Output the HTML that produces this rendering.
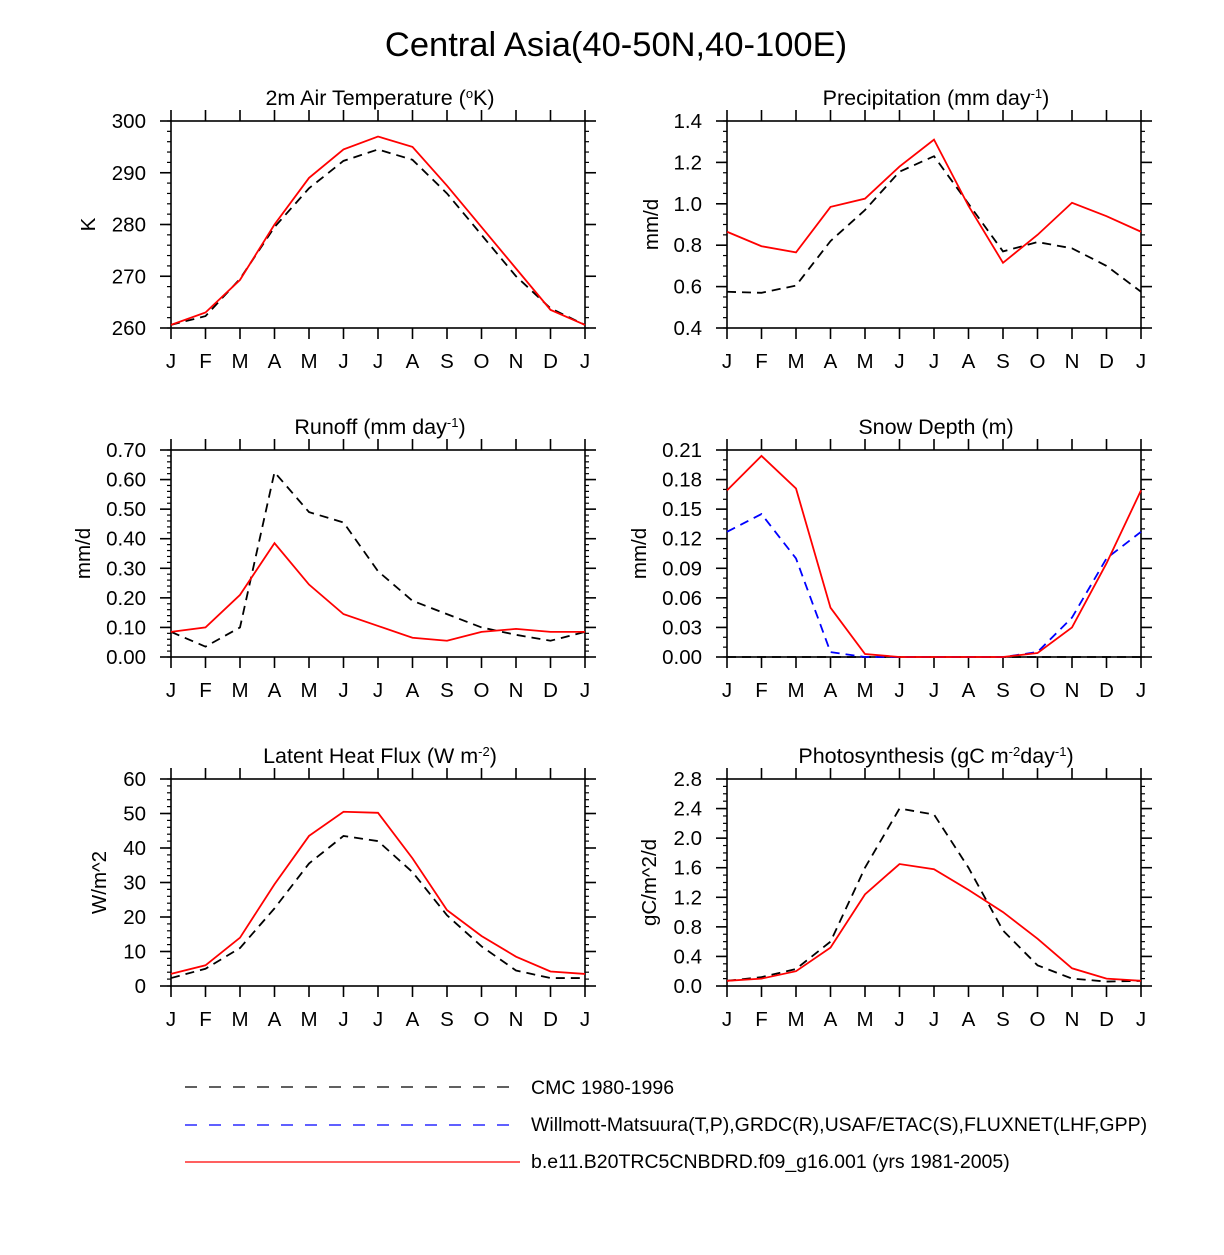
<!DOCTYPE html>
<html><head><meta charset="utf-8"><style>
body{margin:0;background:#fff;}
svg text{font-family:"Liberation Sans",sans-serif;fill:#000;}
</style></head><body>
<svg id="chart" width="1224" height="1250" xmlns="http://www.w3.org/2000/svg">
<text x="616" y="56" font-size="34.5" text-anchor="middle">Central Asia(40-50N,40-100E)</text>
<g id="panels"></g>
<g>
<line x1="185" y1="1087" x2="520" y2="1087" stroke="#000" stroke-width="1.3" stroke-dasharray="12,12"/>
<text x="531" y="1094" font-size="19.5">CMC 1980-1996</text>
<line x1="185" y1="1125" x2="520" y2="1125" stroke="#0000ff" stroke-width="1.3" stroke-dasharray="12,12"/>
<text x="531" y="1131" font-size="19.5">Willmott-Matsuura(T,P),GRDC(R),USAF/ETAC(S),FLUXNET(LHF,GPP)</text>
<line x1="185" y1="1162" x2="520" y2="1162" stroke="#ff0000" stroke-width="1.3"/>
<text x="531" y="1168" font-size="19.5">b.e11.B20TRC5CNBDRD.f09_g16.001 (yrs 1981-2005)</text>
</g>
</svg>
<script>
const months = ["J","F","M","A","M","J","J","A","S","O","N","D","J"];
const tempModel = [260.6,263,269.3,280,289,294.5,297,295,287.5,279.5,271.5,263.5,260.6];
const tempCMC = [260.6,262.3,269.5,279.5,287,292.3,294.5,292.5,286,278,270,263.8,260.6];
const precModel = [0.865,0.795,0.765,0.985,1.025,1.18,1.31,0.99,0.715,0.85,1.005,0.94,0.865];
const precCMC = [0.575,0.57,0.605,0.82,0.97,1.155,1.23,1.0,0.77,0.815,0.785,0.7,0.575];
const runModel = [0.085,0.10,0.21,0.385,0.245,0.145,0.105,0.065,0.055,0.085,0.095,0.085,0.085];
const runCMC = [0.085,0.035,0.10,0.625,0.49,0.455,0.29,0.19,0.145,0.10,0.075,0.055,0.085];
const snowModel = [0.169,0.204,0.171,0.05,0.003,0,0,0,0,0.004,0.03,0.095,0.169];
const snowObs = [0.127,0.145,0.1,0.005,0,0,0,0,0,0.005,0.04,0.1,0.127];
const snowCMC = [0,0,0,0,0,0,0,0,0,0,0,0,0];
const lhfModel = [3.5,6,14,29.5,43.5,50.5,50.2,37,22,14.5,8.5,4.2,3.5];
const lhfCMC = [2.3,5,11,22.5,35.5,43.5,42,33,20.5,11.5,4.5,2.3,2.3];
const gppModel = [0.07,0.1,0.2,0.52,1.24,1.65,1.58,1.3,1.0,0.64,0.24,0.1,0.07];
const gppCMC = [0.07,0.12,0.23,0.6,1.6,2.4,2.32,1.6,0.75,0.28,0.1,0.06,0.07];
const tempTicks = [260,270,280,290,300];
const precTicks = [0.4,0.6,0.8,1.0,1.2,1.4];
const runTicks = [0,0.1,0.2,0.3,0.4,0.5,0.6,0.7];
const snowTicks = [0,0.03,0.06,0.09,0.12,0.15,0.18,0.21];
const lhfTicks = [0,10,20,30,40,50,60];
const gppTicks = [0,0.4,0.8,1.2,1.6,2.0,2.4,2.8];

const NS="http://www.w3.org/2000/svg";
const root=document.getElementById('panels');
function el(tag,attrs,parent){const e=document.createElementNS(NS,tag);for(const k in attrs)e.setAttribute(k,attrs[k]);(parent||root).appendChild(e);return e;}

function panel(cfg){
  const x0=cfg.x,x1=cfg.x+414,y0=cfg.y,y1=cfg.y+207;
  const g=el('g',{});
  
  
  const lo=cfg.ticks[0],hi=cfg.ticks[cfg.ticks.length-1];
  const sx=i=>x0+i*(x1-x0)/12;
  const sy=v=>y1-(v-lo)/(hi-lo)*(y1-y0);
  const ax={stroke:'#000','stroke-width':1.6};
  el('rect',{x:x0,y:y0,width:x1-x0,height:y1-y0,fill:'none',stroke:'#000','stroke-width':1.6},g);
  for(let v=lo;v<=hi+1e-9;v+=cfg.minor){
    const y=sy(v);
    el('line',{x1:x0-4,y1:y,x2:x0,y2:y,stroke:'#000','stroke-width':1.2},g);
    el('line',{x1:x1,y1:y,x2:x1+4,y2:y,stroke:'#000','stroke-width':1.2},g);
  }
  cfg.ticks.forEach(v=>{
    const y=sy(v);
    el('line',Object.assign({x1:x0-11,y1:y,x2:x0,y2:y},ax),g);
    el('line',Object.assign({x1:x1,y1:y,x2:x1+11,y2:y},ax),g);
    const t=el('text',{x:x0-25,y:y+7,'font-size':20.5,'text-anchor':'end'},g);
    
    
    t.textContent=v.toFixed(cfg.dec);
  });
  months.forEach((m,i)=>{
    const x=sx(i);
    el('line',Object.assign({x1:x,y1:y0-11,x2:x,y2:y0},ax),g);
    el('line',Object.assign({x1:x,y1:y1,x2:x,y2:y1+11},ax),g);
    const t=el('text',{x:x,y:y1+40,'font-size':20.5,'text-anchor':'middle'},g);
    
    
    t.textContent=m;
  });
  const tt=el('text',{x:(x0+x1)/2+2,y:y0-16,'font-size':21.5,'text-anchor':'middle'},g);
  
  
  tt.innerHTML=cfg.title;
  const yt=el('text',{x:0,y:0,'font-size':20.5,'text-anchor':'middle',transform:`translate(${cfg.ytx},${(y0+y1)/2}) rotate(-90)`},g);
  
  
  yt.textContent=cfg.ytitle;
  cfg.series.forEach(s=>{
    const p=el('polyline',{points:s.d.map((v,i)=>sx(i)+','+sy(v)).join(' '),fill:'none',stroke:s.c,'stroke-width':1.8,'stroke-dasharray':s.dash?'9,6':'none'},g);
    
    
  });
}
const L=171,R=727;
panel({name:'panel-air-temperature',x:L,y:121,ticks:tempTicks,minor:2,dec:0,title:'2m Air Temperature (<tspan baseline-shift="super" font-size="13">o</tspan>K)',ytitle:'K',ytx:95,
 series:[{n:'line-cmc',d:tempCMC,c:'#000',dash:1},{n:'line-model',d:tempModel,c:'#ff0000'}]});
panel({name:'panel-precipitation',x:R,y:121,ticks:precTicks,minor:0.05,dec:1,title:'Precipitation (mm day<tspan baseline-shift="super" font-size="13">-1</tspan>)',ytitle:'mm/d',ytx:658,
 series:[{n:'line-cmc',d:precCMC,c:'#000',dash:1},{n:'line-model',d:precModel,c:'#ff0000'}]});
panel({name:'panel-runoff',x:L,y:450,ticks:runTicks,minor:0.02,dec:2,title:'Runoff (mm day<tspan baseline-shift="super" font-size="13">-1</tspan>)',ytitle:'mm/d',ytx:90,
 series:[{n:'line-cmc',d:runCMC,c:'#000',dash:1},{n:'line-model',d:runModel,c:'#ff0000'}]});
panel({name:'panel-snow-depth',x:R,y:450,ticks:snowTicks,minor:0.01,dec:2,title:'Snow Depth (m)',ytitle:'mm/d',ytx:646,
 series:[{n:'line-cmc',d:snowCMC,c:'#000',dash:1},{n:'line-obs',d:snowObs,c:'#0000ff',dash:1},{n:'line-model',d:snowModel,c:'#ff0000'}]});
panel({name:'panel-latent-heat',x:L,y:779,ticks:lhfTicks,minor:2,dec:0,title:'Latent Heat Flux (W m<tspan baseline-shift="super" font-size="13">-2</tspan>)',ytitle:'W/m^2',ytx:106,
 series:[{n:'line-cmc',d:lhfCMC,c:'#000',dash:1},{n:'line-model',d:lhfModel,c:'#ff0000'}]});
panel({name:'panel-photosynthesis',x:R,y:779,ticks:gppTicks,minor:0.1,dec:1,title:'Photosynthesis (gC m<tspan baseline-shift="super" font-size="13">-2</tspan>day<tspan baseline-shift="super" font-size="13">-1</tspan>)',ytitle:'gC/m^2/d',ytx:656,
 series:[{n:'line-cmc',d:gppCMC,c:'#000',dash:1},{n:'line-model',d:gppModel,c:'#ff0000'}]});
</script>
</body></html>
